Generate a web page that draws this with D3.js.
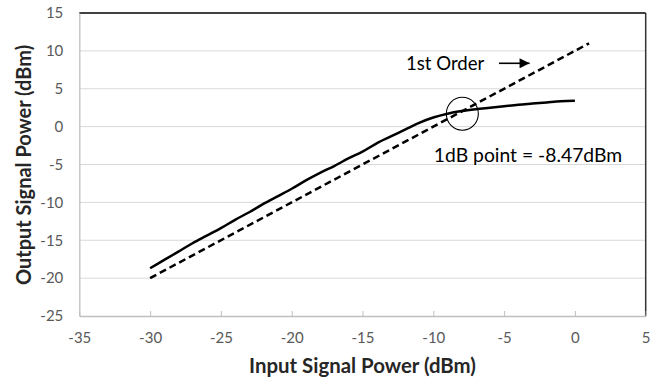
<!DOCTYPE html>
<html>
<head>
<meta charset="utf-8">
<script src="https://cdn.jsdelivr.net/npm/d3@7"></script>
<style>
  html, body { margin: 0; padding: 0; background: #fff; }
  svg { display: block; }
</style>
</head>
<body>
<svg id="chart" width="662" height="383"></svg>
<script>
// ---- data ----
const inputPower = [-30,-29,-28,-27,-26,-25,-24,-23,-22,-21,-20,-19,-18,-17,-16,-15,-14,-13,-12,-11,-10,-9,-8,-7,-6,-5,-4,-3,-2,-1,0];
const outputPower = [-18.7,-17.6,-16.5,-15.4,-14.4,-13.4,-12.3,-11.3,-10.2,-9.2,-8.2,-7.1,-6.1,-5.2,-4.2,-3.3,-2.2,-1.3,-0.4,0.5,1.2,1.7,2.05,2.3,2.5,2.7,2.9,3.05,3.2,3.35,3.4];
const firstOrderX = [-30, 1];
const firstOrderY = [-20, 11];
const xTicks = [-35,-30,-25,-20,-15,-10,-5,0,5];
const yTicks = [-25,-20,-15,-10,-5,0,5,10,15];
const xTitle = "Input Signal Power (dBm)";
const yTitle = "Output Signal Power (dBm)";
const orderLabel = "1st Order";
const orderLabelPos = [-11.93, 7.48];
const orderArrow = [[-5.36, 8.36], [-3.2, 8.36]];
const p1dBLabel = "1dB point = -8.47dBm";
const p1dBLabelPos = [-9.96, -4.71];
const p1dBCircle = [-7.95, 1.7];

// ---- layout ----
const W = 662, H = 383;
const margin = {top: 13, right: 16.3, bottom: 67, left: 79.3};
const iw = W - margin.left - margin.right;
const ih = H - margin.top - margin.bottom;
const font = "Lato, 'Open Sans', sans-serif";

const svg = d3.select("#chart");
const g = svg.append("g").attr("transform", `translate(${margin.left},${margin.top})`);

const x = d3.scaleLinear().domain([-35, 5]).range([0, iw]);
const y = d3.scaleLinear().domain([-25, 15]).range([ih, 0]);
const fmt = d => String(d);

// gridlines
g.append("g").selectAll("line").data(yTicks.filter(t => t > -25 && t < 15)).join("line")
  .attr("x1", 0).attr("x2", iw)
  .attr("y1", d => y(d)).attr("y2", d => y(d))
  .attr("stroke", "#d9d9d9").attr("stroke-width", 1);

// plot border top & right
g.append("line").attr("x1", 0).attr("x2", iw).attr("y1", y(15)).attr("y2", y(15))
  .attr("stroke", "#000").attr("stroke-width", 1.5);
g.append("line").attr("x1", iw).attr("x2", iw).attr("y1", 0).attr("y2", ih)
  .attr("stroke", "#333").attr("stroke-width", 1.5);

// x axis
const xAxis = g.append("g").attr("transform", `translate(0,${ih})`)
  .call(d3.axisBottom(x).tickValues(xTicks).tickSizeInner(-5).tickSizeOuter(0).tickPadding(16).tickFormat(fmt));
xAxis.select(".domain").attr("stroke", "#bfbfbf").attr("stroke-width", 1.3);
xAxis.selectAll(".tick line").attr("stroke", "#bfbfbf");
xAxis.selectAll(".tick text").attr("fill", "#595959").style("font-family", font).style("font-size", "15px");

// y axis
const yAxis = g.append("g")
  .call(d3.axisLeft(y).tickValues(yTicks).tickSize(0).tickPadding(16).tickFormat(fmt));
yAxis.select(".domain").attr("stroke", "#bfbfbf").attr("stroke-width", 1.3);
yAxis.selectAll(".tick text").attr("fill", "#595959").style("font-family", font).style("font-size", "15px");

// first order dashed line
const line = d3.line().x(d => x(d[0])).y(d => y(d[1]));
g.append("path")
  .datum(firstOrderX.map((v, i) => [v, firstOrderY[i]]))
  .attr("d", line).attr("fill", "none").attr("stroke", "#000")
  .attr("stroke-width", 2.5).attr("stroke-dasharray", "7,4");

// measured solid line
g.append("path")
  .datum(inputPower.map((v, i) => [v, outputPower[i]]))
  .attr("d", line.curve(d3.curveMonotoneX)).attr("fill", "none").attr("stroke", "#000")
  .attr("stroke-width", 2.5);

// circle
g.append("ellipse").attr("cx", x(p1dBCircle[0])).attr("cy", y(p1dBCircle[1]))
  .attr("rx", 16).attr("ry", 16.5).attr("fill", "none").attr("stroke", "#000").attr("stroke-width", 1.1);

// annotations
g.append("text").attr("x", x(orderLabelPos[0])).attr("y", y(orderLabelPos[1]))
  .text(orderLabel).style("font-family", font).style("font-size", "18.6px").attr("fill", "#000");
g.append("text").attr("x", x(p1dBLabelPos[0])).attr("y", y(p1dBLabelPos[1]))
  .text(p1dBLabel).style("font-family", font).style("font-size", "19.3px").attr("fill", "#000");

svg.append("defs").append("marker").attr("id", "ah")
  .attr("viewBox", "0 0 10 10").attr("refX", 10).attr("refY", 5)
  .attr("markerWidth", 11).attr("markerHeight", 10).attr("markerUnits", "userSpaceOnUse")
  .attr("orient", "auto")
  .append("path").attr("d", "M0,0 L10,5 L0,10 Z").attr("fill", "#000");
g.append("line")
  .attr("x1", x(orderArrow[0][0])).attr("y1", y(orderArrow[0][1]))
  .attr("x2", x(orderArrow[1][0])).attr("y2", y(orderArrow[1][1]))
  .attr("stroke", "#000").attr("stroke-width", 1.6).attr("marker-end", "url(#ah)");

// axis titles
svg.append("text").attr("x", margin.left + x(-15)).attr("y", 373)
  .attr("text-anchor", "middle").text(xTitle)
  .style("font-family", font).style("font-size", "20.4px").style("font-weight", "bold").attr("fill", "#262626");
svg.append("text").attr("transform", `translate(31,165) rotate(-90)`)
  .attr("text-anchor", "middle").text(yTitle)
  .style("font-family", font).style("font-size", "20px").style("font-weight", "bold").attr("fill", "#262626");
</script>
</body>
</html>
